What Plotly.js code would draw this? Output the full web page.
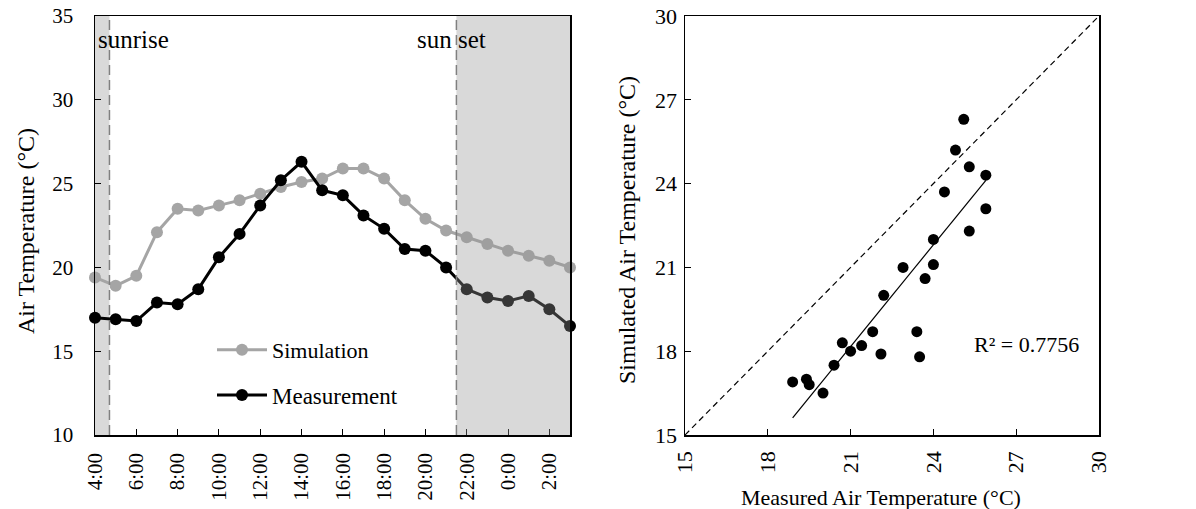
<!DOCTYPE html>
<html>
<head>
<meta charset="utf-8">
<script src="https://cdn.plot.ly/plotly-3.0.1.min.js"></script>
<style>html,body{margin:0;padding:0;background:#fff;}#chart{width:1196px;height:509px;}</style>
</head>
<body>
<div id="chart"></div>
<script>
// ---- data ----
var hours = ['4:00','5:00','6:00','7:00','8:00','9:00','10:00','11:00','12:00','13:00','14:00','15:00',
             '16:00','17:00','18:00','19:00','20:00','21:00','22:00','23:00','0:00','1:00','2:00','3:00'];
var simulation = [19.4,18.9,19.5,22.1,23.5,23.4,23.7,24.0,24.4,24.8,25.1,25.3,
                  25.9,25.9,25.3,24.0,22.9,22.2,21.8,21.4,21.0,20.7,20.4,20.0];
var measurement = [17.0,16.9,16.8,17.9,17.8,18.7,20.6,22.0,23.7,25.2,26.3,24.6,
                   24.3,23.1,22.3,21.1,21.0,20.0,18.7,18.2,18.0,18.3,17.5,16.5];
var sunriseIdx = 0.7;   // ~4:42
var sunsetIdx = 17.5;   // ~21:30
var scatterTicks = [15,18,21,24,27,30];
var r2Text = 'R\u00b2 = 0.7756';

// ---- derived ----
var idx = hours.map(function(_, i){ return i; });
var evenIdx = idx.filter(function(i){ return i % 2 === 0; });
var evenLbl = evenIdx.map(function(i){ return hours[i]; });

// linear regression of scatter (x = simulation series, y = measurement series as drawn)
var sx = simulation, sy = measurement, n = sx.length;
var mx = sx.reduce(function(a,b){return a+b;},0)/n;
var my = sy.reduce(function(a,b){return a+b;},0)/n;
var sxy = 0, sxx = 0;
for (var i = 0; i < n; i++) { sxy += (sx[i]-mx)*(sy[i]-my); sxx += (sx[i]-mx)*(sx[i]-mx); }
var slope = sxy/sxx, icpt = my - slope*mx;
var xmin = Math.min.apply(null, sx), xmax = Math.max.apply(null, sx);

var FONT = 'Liberation Serif, Times New Roman, serif';

var traces = [
  {x: idx, y: simulation, name: 'Simulation', type: 'scatter', mode: 'lines+markers',
   xaxis: 'x', yaxis: 'y', cliponaxis: false, legend: 'legend',
   line: {color: '#a5a5a5', width: 3}, marker: {color: '#a5a5a5', size: 12}},
  {x: idx, y: measurement, name: 'Measurement', type: 'scatter', mode: 'lines+markers',
   xaxis: 'x', yaxis: 'y', cliponaxis: false, legend: 'legend2',
   line: {color: '#000000', width: 3}, marker: {color: '#000000', size: 12}},
  {x: [15, 30], y: [15, 30], type: 'scatter', mode: 'lines', showlegend: false,
   xaxis: 'x2', yaxis: 'y2', line: {color: '#000', width: 1.2, dash: '6px,4px'}},
  {x: [xmin, xmax], y: [icpt + slope*xmin, icpt + slope*xmax], type: 'scatter', mode: 'lines',
   showlegend: false, xaxis: 'x2', yaxis: 'y2', line: {color: '#000', width: 1.2}},
  {x: sx, y: sy, type: 'scatter', mode: 'markers', showlegend: false, cliponaxis: false,
   xaxis: 'x2', yaxis: 'y2', marker: {color: '#000', size: 11}}
];

var axisCommon = {showgrid: false, zeroline: false, showline: true, linecolor: '#000', linewidth: 1.5,
  mirror: true, ticks: 'inside', ticklen: 6, tickcolor: '#000', automargin: false};

var layout = {
  width: 1196, height: 509,
  margin: {l: 0, r: 0, t: 16, b: 74},
  paper_bgcolor: '#fff', plot_bgcolor: '#fff',
  font: {family: FONT, color: '#000', size: 20},
  xaxis: Object.assign({}, axisCommon, {domain: [95/1196, 570/1196], range: [0, 23],
    tickvals: evenIdx, ticktext: evenLbl, tickangle: -90, tickfont: {size: 21, family: FONT},
    ticklabelstandoff: 8, anchor: 'y'}),
  yaxis: Object.assign({}, axisCommon, {domain: [0, 1], range: [10, 35], dtick: 5, tick0: 10,
    tickfont: {size: 21, family: FONT}, ticklabelstandoff: 16, anchor: 'x'}),
  xaxis2: Object.assign({}, axisCommon, {domain: [685/1196, 1099/1196], range: [15, 30],
    tickvals: scatterTicks, tickangle: -90, tickfont: {size: 22, family: FONT},
    ticklabelstandoff: 6, anchor: 'y2'}),
  yaxis2: Object.assign({}, axisCommon, {domain: [0, 1], range: [15, 30],
    tickvals: scatterTicks, tickfont: {size: 22, family: FONT}, ticklabelstandoff: 2, anchor: 'x2'}),
  legend: {x: 212/1196, y: (435-350)/419, xanchor: 'left', yanchor: 'middle', bgcolor: 'rgba(0,0,0,0)',
    font: {size: 22, family: FONT}, itemwidth: 50},
  legend2: {x: 212/1196, y: (435-395)/419, xanchor: 'left', yanchor: 'middle', bgcolor: 'rgba(0,0,0,0)',
    font: {size: 23, family: FONT}, itemwidth: 50},
  shapes: [
    {type: 'rect', xref: 'x', yref: 'paper', x0: 0, x1: sunriseIdx, y0: 0, y1: 1,
     fillcolor: '#d9d9d9', line: {width: 0}, layer: 'below'},
    {type: 'rect', xref: 'x', yref: 'paper', x0: sunsetIdx, x1: 23, y0: 0, y1: 1,
     fillcolor: 'rgba(150,150,150,0.36)', line: {width: 0}, layer: 'above'},
    {type: 'line', xref: 'x', yref: 'paper', x0: sunriseIdx, x1: sunriseIdx, y0: 0, y1: 1,
     line: {color: '#808080', width: 1.5, dash: '10px,5px'}},
    {type: 'line', xref: 'x', yref: 'paper', x0: sunsetIdx, x1: sunsetIdx, y0: 0, y1: 1,
     line: {color: '#808080', width: 1.5, dash: '10px,5px'}}
  ],
  annotations: [
    {text: 'sunrise', xref: 'x', yref: 'y', x: 0.05, y: 33.6, xanchor: 'left', yanchor: 'middle',
     showarrow: false, font: {size: 25, family: FONT}},
    {text: 'sun set', xref: 'x', yref: 'y', x: 15.5, y: 33.6, xanchor: 'left', yanchor: 'middle',
     showarrow: false, font: {size: 25, family: FONT}},
    {text: 'Air Temperature (\u00b0C)', xref: 'paper', yref: 'paper', x: 26/1196, y: (435-231)/419,
     xanchor: 'center', yanchor: 'middle', textangle: -90, showarrow: false, font: {size: 24, family: FONT}},
    {text: 'Simulated Air Temperature (\u00b0C)', xref: 'paper', yref: 'paper', x: 627/1196, y: (435-230)/419,
     xanchor: 'center', yanchor: 'middle', textangle: -90, showarrow: false, font: {size: 24, family: FONT}},
    {text: 'Measured Air Temperature (\u00b0C)', xref: 'paper', yref: 'paper', x: 881/1196, y: (435-497)/419,
     xanchor: 'center', yanchor: 'middle', showarrow: false, font: {size: 22, family: FONT}},
    {text: r2Text, xref: 'x2', yref: 'y2', x: 25.4, y: 18.25, xanchor: 'left', yanchor: 'middle',
     showarrow: false, font: {size: 22, family: FONT}}
  ]
};

Plotly.newPlot('chart', traces, layout, {displayModeBar: false, staticPlot: true});
</script>
</body>
</html>
